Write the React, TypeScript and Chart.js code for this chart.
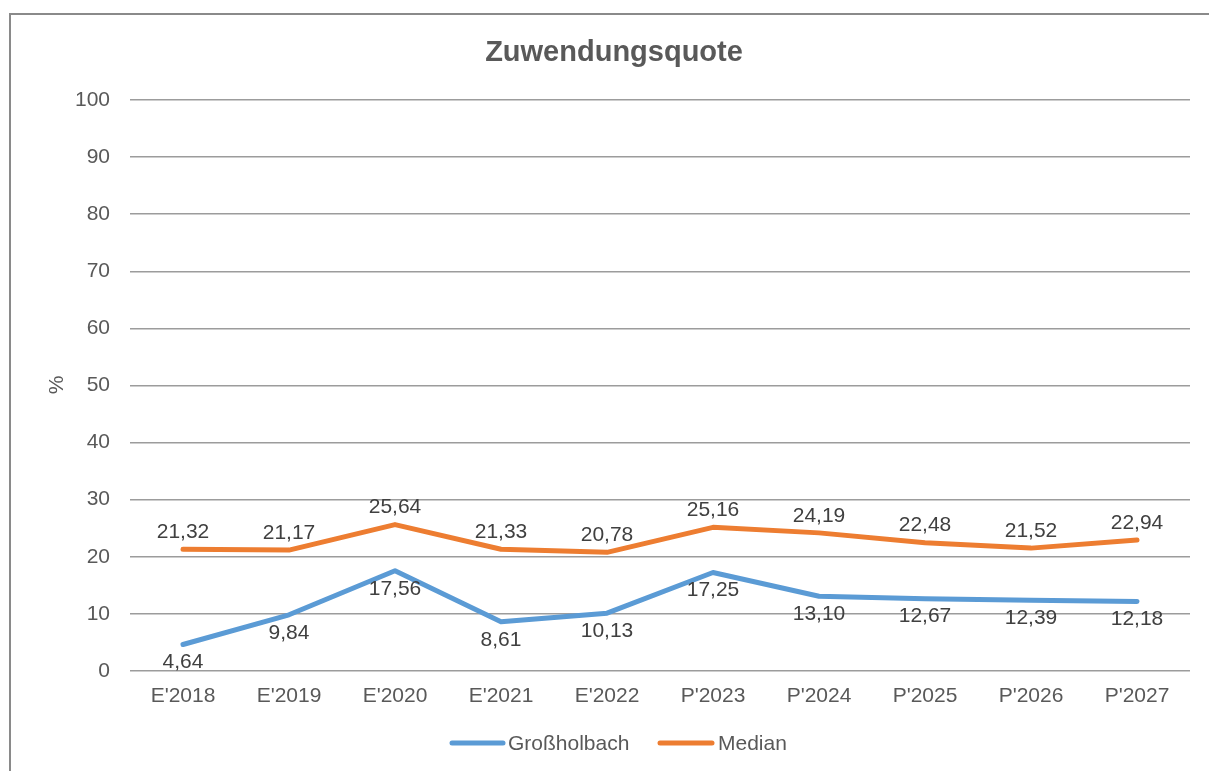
import React, { useEffect, useRef } from "react";
import { Chart, registerables } from "chart.js";

Chart.register(...registerables);

const categories = ["E'2018", "E'2019", "E'2020", "E'2021", "E'2022", "P'2023", "P'2024", "P'2025", "P'2026", "P'2027"];
const grossholbach = [4.64, 9.84, 17.56, 8.61, 10.13, 17.25, 13.1, 12.67, 12.39, 12.18];
const median = [21.32, 21.17, 25.64, 21.33, 20.78, 25.16, 24.19, 22.48, 21.52, 22.94];
const seriesNames = ["Großholbach", "Median"];
const seriesColors = ["#5B9BD5", "#ED7D31"];
const titleText = "Zuwendungsquote";
const yAxisTitle = "%";

const FONT = "'Liberation Sans', Arial, sans-serif";
const TEXT = "#595959";

const overlayPlugin = {
  id: "overlay",
  afterDatasetsDraw(chart: any) {
    const ctx = chart.ctx;
    ctx.save();
    // data labels
    ctx.font = `21px ${FONT}`;
    ctx.fillStyle = "#404040";
    ctx.textAlign = "center";
    ctx.textBaseline = "middle";
    chart.data.datasets.forEach((ds: any, i: number) => {
      const meta = chart.getDatasetMeta(i);
      meta.data.forEach((pt: any, j: number) => {
        const v = ds.data[j] as number;
        const txt = v.toFixed(2).replace(".", ",");
        const dy = i === 0 ? 18 : -17;
        ctx.fillText(txt, pt.x, pt.y + dy);
      });
    });
    // title
    ctx.font = `bold 29px ${FONT}`;
    ctx.fillStyle = TEXT;
    ctx.fillText(titleText, 614, 53);
    // y axis title
    ctx.save();
    ctx.translate(57, 385);
    ctx.rotate(-Math.PI / 2);
    ctx.font = `21px ${FONT}`;
    ctx.fillText(yAxisTitle, 0, 0);
    ctx.restore();
    // legend
    const items = [
      { x0: 452, x1: 503, tx: 508 },
      { x0: 660, x1: 712, tx: 718 },
    ];
    ctx.font = `21px ${FONT}`;
    ctx.textAlign = "left";
    ctx.lineCap = "round";
    ctx.lineWidth = 5;
    chart.data.datasets.forEach((ds: any, i: number) => {
      const it = items[i];
      ctx.strokeStyle = ds.borderColor;
      ctx.beginPath();
      ctx.moveTo(it.x0, 743);
      ctx.lineTo(it.x1, 743);
      ctx.stroke();
      ctx.fillStyle = TEXT;
      ctx.fillText(ds.label, it.tx, 744);
    });
    ctx.restore();
  },
};

export default function App() {
  const ref = useRef<HTMLCanvasElement | null>(null);
  useEffect(() => {
    if (!ref.current) return;
    const chart = new Chart(ref.current, {
      type: "line",
      data: {
        labels: categories,
        datasets: [
          {
            label: seriesNames[0],
            data: grossholbach,
            borderColor: seriesColors[0],
            backgroundColor: seriesColors[0],
            borderWidth: 5,
            pointRadius: 0,
            tension: 0,
            borderCapStyle: "round",
            borderJoinStyle: "round",
          },
          {
            label: seriesNames[1],
            data: median,
            borderColor: seriesColors[1],
            backgroundColor: seriesColors[1],
            borderWidth: 5,
            pointRadius: 0,
            tension: 0,
            borderCapStyle: "round",
            borderJoinStyle: "round",
          },
        ],
      },
      options: {
        animation: false,
        responsive: false,
        maintainAspectRatio: false,
        layout: { padding: { left: 0, right: 19, top: 100, bottom: 0 } },
        plugins: {
          legend: { display: false },
          title: { display: false },
          tooltip: { enabled: false },
        },
        scales: {
          x: {
            offset: true,
            grid: { display: false, drawTicks: false },
            border: { display: false },
            ticks: { color: TEXT, font: { family: FONT, size: 21 }, padding: 13, maxRotation: 0 },
            afterFit: (s: any) => {
              s.height = 100;
            },
          },
          y: {
            min: 0,
            max: 100,
            ticks: { stepSize: 10, color: TEXT, font: { family: FONT, size: 21 }, padding: 20 },
            grid: { color: "#9c9c9c", lineWidth: 1.5, drawTicks: false },
            border: { display: false },
            afterFit: (s: any) => {
              s.width = 130;
            },
          },
        },
      },
      plugins: [overlayPlugin],
    });
    return () => chart.destroy();
  }, []);

  return (
    <div style={{ position: "fixed", left: 0, top: 0, width: 1209, height: 771, overflow: "hidden", background: "#fff" }}>
      <div
        style={{
          position: "absolute",
          left: 9,
          top: 13,
          width: 1260,
          height: 820,
          border: "2px solid #8a8a8a",
          boxSizing: "border-box",
        }}
      />
      <canvas ref={ref} width={1209} height={771} style={{ position: "absolute", left: 0, top: 0, width: 1209, height: 771 }} />
    </div>
  );
}
